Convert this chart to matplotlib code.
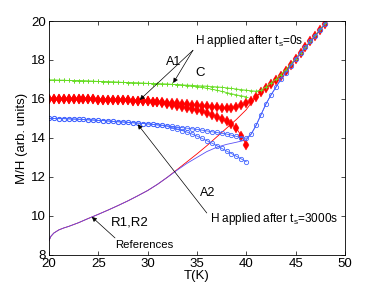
import matplotlib
matplotlib.use("Agg")
import matplotlib.pyplot as plt

plt.rcParams["font.family"] = ["Liberation Sans", "DejaVu Sans"]

# temperature grid of the measured branches (K)
T_cool = [20, 20.5, 21, 21.5, 22, 22.5, 23, 23.5, 24, 24.5, 25, 25.5, 26, 26.5,
          27, 27.5, 28, 28.5, 29, 29.5, 30, 30.5, 31, 31.5, 32, 32.5, 33, 33.5,
          34, 34.5, 35, 35.5, 36, 36.5, 37, 37.5, 38, 38.5, 39, 39.5, 40]
T_rise = [40.5, 41, 41.5, 42, 42.5, 43, 43.5, 44, 44.5, 45, 45.5, 46, 46.5,
          47, 47.5, 48]

# C : H applied after ts=0s (green)
c_upper = [16.97, 16.97, 16.96, 16.96, 16.95, 16.94, 16.94, 16.93, 16.92, 16.91,
           16.90, 16.89, 16.88, 16.87, 16.86, 16.85, 16.84, 16.83, 16.82, 16.81,
           16.80, 16.79, 16.78, 16.77, 16.76, 16.75, 16.74, 16.72, 16.71, 16.70,
           16.68, 16.67, 16.66, 16.64, 16.62, 16.60, 16.57, 16.54, 16.51, 16.48, 16.45]
c_rise = [16.42, 16.40, 16.45, 16.62, 16.82, 17.00, 17.25, 17.50, 17.78, 18.07,
          18.37, 18.67, 18.97, 19.27, 19.57, 19.88]
c_lower = [16.97, 16.97, 16.96, 16.96, 16.95, 16.94, 16.94, 16.93, 16.92, 16.91,
           16.90, 16.89, 16.88, 16.87, 16.86, 16.85, 16.84, 16.83, 16.82, 16.81,
           16.80, 16.79, 16.78, 16.77, 16.76, 16.75, 16.74, 16.71, 16.68, 16.66,
           16.63, 16.59, 16.55, 16.50, 16.45, 16.39, 16.33, 16.27, 16.21, 16.16, 16.12]

# A1 (red diamonds)
a1_upper = [16.00, 16.00, 16.00, 16.00, 16.00, 15.99, 15.99, 15.99, 15.98, 15.98,
            15.97, 15.97, 15.96, 15.95, 15.95, 15.94, 15.93, 15.92, 15.91, 15.90,
            15.88, 15.87, 15.85, 15.83, 15.81, 15.79, 15.77, 15.75, 15.72, 15.70,
            15.67, 15.65, 15.62, 15.60, 15.58, 15.56, 15.55, 15.56, 15.60, 15.67, 15.77]
a1_rise = [15.92, 16.12, 16.35, 16.57, 16.77, 16.97, 17.20, 17.45, 17.75, 18.05,
           18.35, 18.65, 18.95, 19.25, 19.55, 19.87]
a1_lower = [16.00, 16.00, 16.00, 16.00, 16.00, 15.99, 15.99, 15.99, 15.98, 15.98,
            15.97, 15.97, 15.96, 15.95, 15.95, 15.94, 15.93, 15.92, 15.91, 15.90,
            15.88, 15.87, 15.83, 15.79, 15.75, 15.70, 15.65, 15.60, 15.55, 15.49,
            15.43, 15.36, 15.28, 15.20, 15.10, 14.98, 14.85, 14.70, 14.50, 14.10, 13.65]

# A2 (blue circles)
a2_upper = [15.00, 15.00, 14.99, 14.99, 14.98, 14.97, 14.96, 14.95, 14.93, 14.92,
            14.90, 14.89, 14.87, 14.85, 14.83, 14.82, 14.80, 14.78, 14.76, 14.74,
            14.72, 14.70, 14.67, 14.65, 14.62, 14.59, 14.56, 14.53, 14.50, 14.47,
            14.44, 14.40, 14.36, 14.32, 14.28, 14.24, 14.20, 14.14, 14.08, 14.02, 13.98]
a2_rise = [14.20, 14.65, 15.20, 15.75, 16.20, 16.60, 17.00, 17.35, 17.70, 18.05,
           18.35, 18.65, 18.95, 19.25, 19.55, 19.87]
a2_lower = [15.00, 15.00, 14.99, 14.99, 14.98, 14.97, 14.96, 14.95, 14.93, 14.92,
            14.90, 14.89, 14.87, 14.85, 14.83, 14.82, 14.80, 14.78, 14.76, 14.74,
            14.72, 14.70, 14.67, 14.65, 14.60, 14.53, 14.46, 14.38, 14.30, 14.20,
            14.10, 13.98, 13.86, 13.74, 13.61, 13.47, 13.33, 13.20, 13.06, 12.92, 12.78]

# references R1 (red) and R2 (blue)
T_ref = [20, 20.2, 20.5, 21, 21.5, 22, 23, 24, 25, 26, 27, 28, 29, 30, 31, 32,
         33, 34, 35, 36, 37, 38, 39, 40, 40.5, 41, 41.5, 42, 42.5, 43, 43.5, 44,
         45, 46, 47, 48]
r1 = [8.72, 8.95, 9.12, 9.28, 9.38, 9.46, 9.65, 9.87, 10.08, 10.30, 10.53, 10.77,
      11.03, 11.30, 11.62, 11.98, 12.38, 12.78, 13.18, 13.60, 14.05, 14.50, 14.95,
      15.45, 15.80, 16.10, 16.35, 16.57, 16.77, 16.97, 17.20, 17.45, 18.05, 18.65,
      19.25, 19.87]
r2 = [8.72, 8.95, 9.12, 9.28, 9.38, 9.46, 9.65, 9.87, 10.08, 10.30, 10.53, 10.77,
      11.03, 11.30, 11.62, 11.98, 12.35, 12.70, 13.00, 13.30, 13.52, 13.67, 13.78,
      13.90, 14.20, 14.65, 15.20, 15.75, 16.20, 16.60, 17.00, 17.35, 18.05, 18.65,
      19.25, 19.87]

GREEN = "#66dd22"
RED = "#ff0000"
BLUE = "#4466ff"

fig = plt.figure(figsize=(3.82, 2.88), dpi=100)
ax = fig.add_axes([0.128, 0.115, 0.775, 0.812])

ax.plot(T_ref, r1, color=RED, lw=0.6)
ax.plot(T_ref, r2, color="#5a4ff5", lw=0.6)

ax.plot(T_cool, a1_lower, "-d", color=RED, lw=0.6, ms=5.2, mew=0.3)
ax.plot(T_cool + T_rise, a1_upper + a1_rise, "-d", color=RED, lw=0.6, ms=5.2, mew=0.3)

ax.plot(T_cool, c_lower, "-+", color=GREEN, lw=0.6, ms=2.5, mew=0.6)
ax.plot(T_cool + T_rise, c_upper + c_rise, "-+", color=GREEN, lw=0.6, ms=2.5, mew=0.6)

ax.plot(T_cool, a2_lower, "-o", color=BLUE, lw=0.6, ms=3.1, mew=0.6, mfc="none")
ax.plot(T_cool + T_rise, a2_upper + a2_rise, "-o", color=BLUE, lw=0.6, ms=3.1,
        mew=0.6, mfc="none")

ax.set_xlim(20, 50)
ax.set_ylim(8, 20)
ax.set_xticks([20, 25, 30, 35, 40, 45, 50])
ax.set_yticks([8, 10, 12, 14, 16, 18, 20])
ax.tick_params(direction="in", top=True, right=True, length=3, width=0.5,
               labelsize=9.5, pad=2)
for s in ax.spines.values():
    s.set_linewidth(0.6)
ax.set_xlabel("T(K)", fontsize=9.5, labelpad=0)
ax.set_ylabel("M/H (arb. units)", fontsize=9.5, labelpad=2)

arr = dict(arrowstyle="-|>", color="black", lw=0.5, mutation_scale=7,
           shrinkA=0, shrinkB=0)
fs = 8.5

ax.text(34.8, 19.0, "H applied after t$_\\mathregular{s}$=0s", fontsize=fs,
        va="center", ha="left")
ax.annotate("", xy=(29.2, 15.95), xytext=(34.6, 18.5), arrowprops=arr)
ax.annotate("", xy=(32.6, 16.82), xytext=(34.6, 18.5), arrowprops=arr)
ax.text(32.6, 17.9, "A1", fontsize=9, ha="center", va="center")
ax.text(35.3, 17.33, "C", fontsize=9.5, ha="center", va="center")

ax.text(36.1, 11.18, "A2", fontsize=9, ha="center", va="center")
ax.text(36.3, 9.85, "H applied after t$_\\mathregular{s}$=3000s", fontsize=fs,
        va="center", ha="left")
ax.annotate("", xy=(29.0, 14.7), xytext=(36.0, 10.15), arrowprops=arr)

ax.text(28.2, 9.64, "R1,R2", fontsize=9.5, ha="center", va="center")
ax.text(29.7, 8.5, "References", fontsize=8.2, ha="center", va="center")
ax.annotate("", xy=(24.35, 9.95), xytext=(26.7, 8.87), arrowprops=arr)

fig.savefig("out.png", dpi=100)
